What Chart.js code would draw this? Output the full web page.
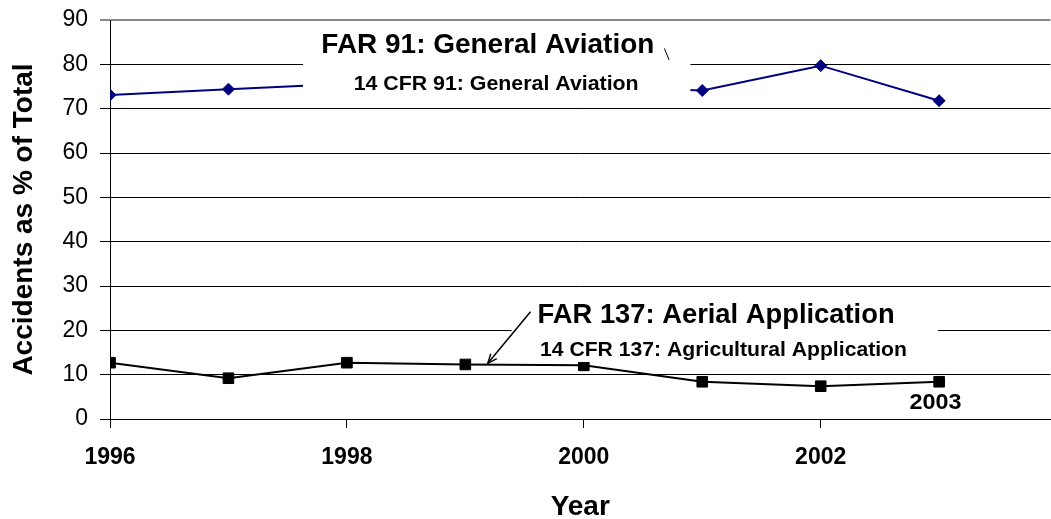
<!DOCTYPE html>
<html>
<head>
<meta charset="utf-8">
<script src="https://cdn.jsdelivr.net/npm/chart.js@4/dist/chart.umd.min.js"></script>
<style>
  html, body { margin: 0; padding: 0; background: #fff; overflow: hidden; }
  #wrap { width: 1059px; height: 519px; position: relative; }
</style>
</head>
<body>
<div id="wrap"><canvas id="c"></canvas></div>
<script>
const years = [1996, 1997, 1998, 1999, 2000, 2001, 2002, 2003];
const generalAviation = [73.1, 74.4, 75.6, 76.0, 75.0, 74.1, 79.7, 71.8];
const aerialApplication = [12.7, 9.2, 12.7, 12.3, 12.1, 8.4, 7.4, 8.4];
const yTickValues = [0, 10, 20, 30, 40, 50, 60, 70, 80, 90];
const xTickLabels = ['1996', '1998', '2000', '2002'];

const FONT = '"Liberation Sans", Arial, Helvetica, sans-serif';

// annotations in data coordinates
const labels = [
  { text: 'FAR 91: General Aviation', x: 1999.19, y: 82.5, size: 28, width: 333, align: 'center' },
  { text: '14 CFR 91: General Aviation', x: 1999.26, y: 74.2, size: 21, width: 285, align: 'center' },
  { text: 'FAR 137: Aerial Application', x: 1999.61, y: 21.6, size: 28, width: 357, align: 'left' },
  { text: '14 CFR 137: Agricultural Application', x: 1999.63, y: 14.2, size: 20.5, width: 367, align: 'left' },
  { text: '2003', x: 2002.97, y: 2.2, size: 22, width: 52, align: 'center' }
];
const boxes = [
  { x0: 1997.63, x1: 2000.90, y0: 88.0, y1: 70.85 },
  { x0: 1999.39, x1: 2002.99, y0: 28.6, y1: 12.85 }
];
const arrow = { x0: 1999.55, y0: 24.2, x1: 1999.19, y1: 12.56 };
const stray = { x0: 2000.68, y0: 83.6, x1: 2000.72, y1: 81.0 };

const annotationPlugin = {
  id: 'annot',
  afterDatasetsDraw(chart) {
    const ctx = chart.ctx, xs = chart.scales.x, ys = chart.scales.y;
    const px = v => xs.getPixelForValue(v), py = v => ys.getPixelForValue(v);
    ctx.save();
    ctx.fillStyle = '#fff';
    boxes.forEach(b => {
      ctx.fillRect(px(b.x0), py(b.y0), px(b.x1) - px(b.x0), py(b.y1) - py(b.y0));
    });
    ctx.fillStyle = '#000';
    ctx.textBaseline = 'alphabetic';
    labels.forEach(l => {
      ctx.font = 'bold ' + l.size + 'px ' + FONT;
      const w = ctx.measureText(l.text).width;
      const s = l.width / w;
      ctx.save();
      ctx.translate(px(l.x), py(l.y));
      ctx.scale(s, 1);
      ctx.textAlign = l.align;
      ctx.fillText(l.text, 0, 0);
      ctx.restore();
    });
    // arrow
    const ax0 = px(arrow.x0), ay0 = py(arrow.y0), ax1 = px(arrow.x1), ay1 = py(arrow.y1);
    ctx.strokeStyle = '#000';
    ctx.lineWidth = 1.5;
    ctx.beginPath();
    ctx.moveTo(ax0, ay0);
    ctx.lineTo(ax1, ay1);
    ctx.stroke();
    const ang = Math.atan2(ay1 - ay0, ax1 - ax0);
    const hl = 10, hw = 0.4;
    ctx.beginPath();
    ctx.moveTo(ax1 - hl * Math.cos(ang - hw), ay1 - hl * Math.sin(ang - hw));
    ctx.lineTo(ax1, ay1);
    ctx.lineTo(ax1 - hl * Math.cos(ang + hw), ay1 - hl * Math.sin(ang + hw));
    ctx.stroke();
    // stray leader line
    ctx.lineWidth = 1;
    ctx.beginPath();
    ctx.moveTo(px(stray.x0), py(stray.y0));
    ctx.lineTo(px(stray.x1), py(stray.y1));
    ctx.stroke();
    ctx.restore();
  }
};

new Chart(document.getElementById('c'), {
  type: 'line',
  data: {
    datasets: [
      {
        label: 'FAR 91: General Aviation',
        data: years.map((y, i) => ({ x: y, y: generalAviation[i] })),
        borderColor: '#000080',
        backgroundColor: '#000080',
        borderWidth: 2,
        pointStyle: 'rectRot',
        pointRadius: 6,
        pointBorderWidth: 1,
        tension: 0
      },
      {
        label: 'FAR 137: Aerial Application',
        data: years.map((y, i) => ({ x: y, y: aerialApplication[i] })),
        borderColor: '#000',
        backgroundColor: '#000',
        borderWidth: 2,
        pointStyle: 'rect',
        pointRadius: 7.5,
        pointBorderWidth: 1,
        tension: 0
      }
    ]
  },
  options: {
    responsive: true,
    maintainAspectRatio: false,
    animation: false,
    layout: { padding: { top: 20, left: 0, right: 0, bottom: 0 } },
    plugins: { legend: { display: false }, tooltip: { enabled: false } },
    scales: {
      x: {
        type: 'linear',
        min: 1996,
        max: 2003.94,
        afterFit: s => { s.height = 100; },
        afterBuildTicks: s => { s.ticks = xTickLabels.map(t => ({ value: Number(t) })); },
        ticks: {
          includeBounds: false,
          autoSkip: false,
          maxRotation: 0,
          color: '#000',
          font: { family: FONT, size: 23, weight: 'bold' },
          padding: 16,
          callback: v => xTickLabels.includes(String(v)) ? String(v) : ''
        },
        grid: { drawOnChartArea: false, drawTicks: true, tickLength: 9, color: '#000', lineWidth: 1 },
        border: { display: true, color: '#000', width: 1 },
        title: {
          display: true, text: 'Year', color: '#000',
          font: { family: FONT, size: 28, weight: 'bold', lineHeight: 0.86 },
          padding: { top: 0, bottom: 0 }
        }
      },
      y: {
        min: 0,
        max: 90,
        afterFit: s => { s.width = 110; s.paddingTop = 0; s.paddingBottom = 0; },
        afterBuildTicks: s => { s.ticks = yTickValues.map(v => ({ value: v })); },
        ticks: {
          color: '#000',
          font: { family: FONT, size: 23, lineHeight: 0.8 },
          padding: 12,
          callback: v => String(v)
        },
        grid: {
          color: c => c.tick && c.tick.value === 90 ? '#888' : '#000',
          lineWidth: c => c.tick && c.tick.value === 90 ? 2 : 1,
          tickLength: 10,
          drawTicks: true
        },
        border: { display: true, color: '#000', width: 1 },
        title: {
          display: true, text: 'Accidents as % of Total', color: '#000',
          font: { family: FONT, size: 28, weight: 'bold', lineHeight: 1 },
          padding: { top: 10, bottom: 0 }
        }
      }
    }
  },
  plugins: [annotationPlugin]
});
</script>
</body>
</html>
